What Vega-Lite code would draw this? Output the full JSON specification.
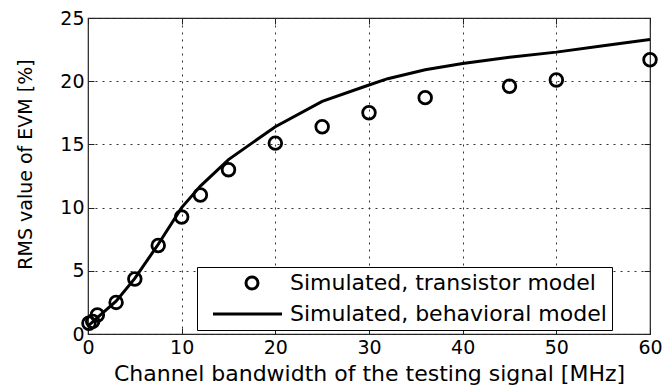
{
  "$schema": "https://vega.github.io/schema/vega-lite/v6.json",
  "width": 562,
  "height": 316,
  "autosize": {"type": "none"},
  "padding": {"left": 88, "top": 18, "right": 14, "bottom": 55},
  "background": "white",
  "config": {
    "font": "DejaVu Sans",
    "view": {"stroke": "#222", "strokeWidth": 1.2},
    "axis": {
      "labelFont": "DejaVu Sans",
      "titleFont": "DejaVu Sans",
      "labelFontSize": 19,
      "titleFontSize": 22,
      "titleFontWeight": "normal",
      "labelColor": "#000",
      "titleColor": "#000",
      "tickColor": "#222",
      "tickWidth": 1,
      "domain": false,
      "labelFlush": false
    },
    "legend": {
      "labelFont": "DejaVu Sans",
      "labelFontSize": 22,
      "labelColor": "#000",
      "labelLimit": 600
    }
  },
  "data": {
    "values": [
      {"bw": 0.1, "evm": 0.85, "series": "Simulated, transistor model"},
      {"bw": 0.5, "evm": 1.0, "series": "Simulated, transistor model"},
      {"bw": 1, "evm": 1.5, "series": "Simulated, transistor model"},
      {"bw": 3, "evm": 2.5, "series": "Simulated, transistor model"},
      {"bw": 5, "evm": 4.35, "series": "Simulated, transistor model"},
      {"bw": 7.5, "evm": 7.0, "series": "Simulated, transistor model"},
      {"bw": 10, "evm": 9.25, "series": "Simulated, transistor model"},
      {"bw": 12, "evm": 11.0, "series": "Simulated, transistor model"},
      {"bw": 15, "evm": 13.0, "series": "Simulated, transistor model"},
      {"bw": 20, "evm": 15.1, "series": "Simulated, transistor model"},
      {"bw": 25, "evm": 16.4, "series": "Simulated, transistor model"},
      {"bw": 30, "evm": 17.5, "series": "Simulated, transistor model"},
      {"bw": 36, "evm": 18.7, "series": "Simulated, transistor model"},
      {"bw": 45, "evm": 19.6, "series": "Simulated, transistor model"},
      {"bw": 50, "evm": 20.1, "series": "Simulated, transistor model"},
      {"bw": 60, "evm": 21.7, "series": "Simulated, transistor model"},
      {"bw": 0.1, "evm": 0.7, "series": "Simulated, behavioral model"},
      {"bw": 0.5, "evm": 0.95, "series": "Simulated, behavioral model"},
      {"bw": 1, "evm": 1.3, "series": "Simulated, behavioral model"},
      {"bw": 3, "evm": 2.6, "series": "Simulated, behavioral model"},
      {"bw": 5, "evm": 4.4, "series": "Simulated, behavioral model"},
      {"bw": 7.5, "evm": 7.1, "series": "Simulated, behavioral model"},
      {"bw": 10, "evm": 10.0, "series": "Simulated, behavioral model"},
      {"bw": 12, "evm": 11.7, "series": "Simulated, behavioral model"},
      {"bw": 15, "evm": 13.8, "series": "Simulated, behavioral model"},
      {"bw": 17.5, "evm": 15.1, "series": "Simulated, behavioral model"},
      {"bw": 20, "evm": 16.4, "series": "Simulated, behavioral model"},
      {"bw": 25, "evm": 18.4, "series": "Simulated, behavioral model"},
      {"bw": 30, "evm": 19.7, "series": "Simulated, behavioral model"},
      {"bw": 32, "evm": 20.2, "series": "Simulated, behavioral model"},
      {"bw": 36, "evm": 20.9, "series": "Simulated, behavioral model"},
      {"bw": 40, "evm": 21.4, "series": "Simulated, behavioral model"},
      {"bw": 45, "evm": 21.9, "series": "Simulated, behavioral model"},
      {"bw": 50, "evm": 22.3, "series": "Simulated, behavioral model"},
      {"bw": 55, "evm": 22.8, "series": "Simulated, behavioral model"},
      {"bw": 60, "evm": 23.3, "series": "Simulated, behavioral model"}
    ]
  },
  "resolve": {"axis": {"x": "independent", "y": "independent"}},
  "layer": [
    {
      "transform": [{"filter": "datum.series === 'Simulated, behavioral model'"}],
      "mark": {"type": "line", "color": "#000", "strokeWidth": 3, "clip": true},
      "encoding": {
        "x": {
          "field": "bw", "type": "quantitative",
          "scale": {"domain": [0, 60], "nice": false, "zero": false},
          "axis": {"orient": "top", "values": [0, 10, 20, 30, 40, 50, 60], "labels": false, "title": null, "grid": false, "tickSize": -6}
        },
        "y": {
          "field": "evm", "type": "quantitative",
          "scale": {"domain": [0, 25], "nice": false, "zero": false},
          "axis": {"orient": "right", "values": [0, 5, 10, 15, 20, 25], "labels": false, "title": null, "grid": false, "tickSize": -6}
        }
      }
    },
    {
      "transform": [{"filter": "datum.series === 'Simulated, transistor model'"}],
      "mark": {"type": "point", "shape": "circle", "size": 160, "filled": false, "stroke": "#000", "strokeWidth": 2.8, "opacity": 1},
      "encoding": {
        "x": {
          "field": "bw", "type": "quantitative",
          "axis": {
            "orient": "bottom", "values": [0, 10, 20, 30, 40, 50, 60],
            "title": "Channel bandwidth of the testing signal [MHz]",
            "grid": true, "gridColor": "#333", "gridDash": [2, 5], "gridWidth": 1,
            "tickSize": -6, "labelPadding": 10, "titlePadding": 6
          }
        },
        "y": {
          "field": "evm", "type": "quantitative",
          "axis": {
            "orient": "left", "values": [0, 5, 10, 15, 20, 25],
            "title": "RMS value of EVM [%]", "titleY": 146, "titleFontSize": 19,
            "grid": true, "gridColor": "#333", "gridDash": [2, 5], "gridWidth": 1,
            "tickSize": -6, "labelPadding": 10, "titlePadding": 24
          }
        }
      }
    },
    {
      "transform": [{"filter": "false"}],
      "mark": {"type": "point", "filled": false, "stroke": "#000", "strokeWidth": 3, "opacity": 1},
      "encoding": {
        "shape": {
          "field": "series", "type": "nominal",
          "scale": {
            "domain": ["Simulated, transistor model", "Simulated, behavioral model"],
            "range": ["M7.5,0A1,1 0 1,1 5.5,0A1,1 0 1,1 7.5,0Z", "M0,0H11.5"]
          },
          "legend": {
            "title": null, "orient": "none", "legendX": 109, "legendY": 249,
            "strokeColor": "#000", "fillColor": "#fff", "padding": 5, "cornerRadius": 0,
            "symbolSize": 144, "symbolStrokeWidth": 3, "symbolStrokeColor": "#000",
            "symbolFillColor": "transparent", "symbolOpacity": 1,
            "labelOffset": 66, "rowPadding": 8
          }
        }
      }
    }
  ]
}
